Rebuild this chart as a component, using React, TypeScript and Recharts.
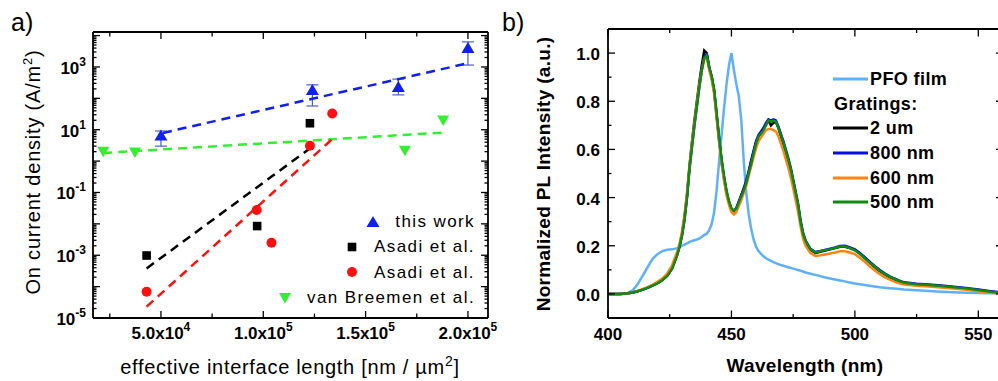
import { ScatterChart, Scatter, XAxis, YAxis, ErrorBar, LineChart, Line } from "recharts";

const FONT = '"Liberation Sans", Arial, Helvetica, sans-serif';

// ---------- panel a: on current density vs interface length ----------
const thisWorkX = [50000, 124000, 166000, 200000];
const thisWorkY = [6.6, 185, 229, 4000];
const thisWorkErrLow = [3.6, 128, 100, 2850];
const thisWorkErrHigh = [2.5, 84, 181, 2300];

const asadiSqX = [43000, 97000, 122800];
const asadiSqY = [0.00098, 0.0085, 16.1];

const asadiCircX = [43000, 96800, 104000, 122800, 133700];
const asadiCircY = [0.000069, 0.0276, 0.0025, 3.1, 33];

const breemenX = [21800, 37300, 169200, 187900];
const breemenY = [2.0, 1.87, 2.14, 19.6];

// dashed fit lines (end points)
const fitThisWorkX = [51000, 200000];
const fitThisWorkY = [7.9, 1320];
const fitAsadiSqX = [43000, 123000];
const fitAsadiSqY = [0.00038, 2.6];
const fitAsadiCircX = [43000, 134200];
const fitAsadiCircY = [0.000023, 5.4];
const fitBreemenX = [21800, 187900];
const fitBreemenY = [1.82, 8.1];

const legendA = ["this work", "Asadi et al.", "Asadi et al.", "van Breemen et al."];

const aXTicks = [25000, 50000, 75000, 100000, 125000, 150000, 175000, 200000];
const aXLabeled = [50000, 100000, 150000, 200000];
const aYLabelExps = [-5, -3, -1, 1, 3];

// ---------- panel b: PL spectra ----------
const wavelength = [
  400, 405, 408, 410, 412, 414, 416, 418, 420, 422, 424, 426, 428,
  429, 430, 431, 432, 433, 434, 435, 436, 437, 438, 439, 440, 441, 442, 443, 444, 445, 446, 447, 448, 449, 450,
  451, 452, 453, 454, 455, 456, 457, 458, 459, 460, 461, 462, 463, 464, 465, 466, 467, 468, 469, 470,
  471, 472, 473, 474, 475, 476, 477, 478, 479, 480,
  482, 484, 486, 488, 490, 492, 494, 496, 498, 500, 502, 504, 506, 508, 510, 512, 514, 516, 518, 520,
  525, 530, 535, 540, 545, 550, 555, 560,
];

const pfoFilm = [
  0, 0, 0.003, 0.015, 0.04, 0.075, 0.11, 0.145, 0.165, 0.178, 0.183, 0.185, 0.19,
  0.195, 0.2, 0.205, 0.21, 0.215, 0.22, 0.223, 0.226, 0.23, 0.237, 0.245, 0.25, 0.265, 0.29, 0.34, 0.43, 0.55, 0.66, 0.77, 0.87, 0.95, 1.0,
  0.93, 0.87, 0.82, 0.72, 0.55, 0.42, 0.33, 0.27, 0.225, 0.195, 0.178, 0.166, 0.156, 0.148, 0.142, 0.137, 0.132, 0.128, 0.124, 0.12,
  0.117, 0.114, 0.111, 0.108, 0.105, 0.102, 0.099, 0.096, 0.093, 0.089,
  0.084, 0.079, 0.074, 0.068, 0.064, 0.06, 0.056, 0.052, 0.047, 0.043, 0.04, 0.037, 0.034, 0.031, 0.028, 0.026, 0.024, 0.022, 0.02, 0.018,
  0.015, 0.012, 0.009, 0.007, 0.005, 0.004, 0.003, 0.002,
];

const grating2um = [
  0, 0, 0.003, 0.006, 0.011, 0.018, 0.026, 0.035, 0.046, 0.059, 0.078, 0.11, 0.165,
  0.2, 0.25, 0.32, 0.41, 0.53, 0.63, 0.72, 0.8, 0.88, 0.95, 1.01, 1.0, 0.94, 0.9, 0.84, 0.74, 0.64, 0.55, 0.48, 0.42, 0.38, 0.352,
  0.345, 0.355, 0.38, 0.41, 0.435, 0.465, 0.505, 0.55, 0.59, 0.63, 0.655, 0.67, 0.685, 0.705, 0.72, 0.7, 0.71, 0.715, 0.69, 0.655,
  0.625, 0.59, 0.555, 0.515, 0.465, 0.415, 0.365, 0.295, 0.245, 0.215,
  0.183, 0.17, 0.175, 0.18, 0.185, 0.19, 0.196, 0.196, 0.19, 0.182, 0.168, 0.15, 0.13, 0.112, 0.095, 0.082, 0.07, 0.06, 0.052, 0.045,
  0.039, 0.036, 0.032, 0.028, 0.022, 0.016, 0.009, 0.003,
];

const grating800 = [
  0, 0, 0.003, 0.006, 0.011, 0.018, 0.025, 0.034, 0.045, 0.058, 0.076, 0.107, 0.162,
  0.197, 0.245, 0.31, 0.4, 0.52, 0.61, 0.7, 0.78, 0.86, 0.93, 0.985, 0.995, 0.94, 0.9, 0.845, 0.745, 0.645, 0.555, 0.485, 0.425, 0.382, 0.352,
  0.345, 0.357, 0.385, 0.41, 0.44, 0.47, 0.51, 0.555, 0.595, 0.635, 0.66, 0.675, 0.69, 0.71, 0.725, 0.72, 0.725, 0.72, 0.695, 0.665,
  0.635, 0.6, 0.565, 0.525, 0.475, 0.425, 0.375, 0.305, 0.255, 0.222,
  0.187, 0.174, 0.178, 0.183, 0.188, 0.193, 0.199, 0.2, 0.193, 0.185, 0.17, 0.152, 0.134, 0.116, 0.1, 0.086, 0.074, 0.064, 0.055, 0.048,
  0.042, 0.039, 0.035, 0.03, 0.025, 0.018, 0.011, 0.005,
];

const grating600 = [
  0, 0, 0.003, 0.007, 0.012, 0.02, 0.028, 0.038, 0.05, 0.064, 0.085, 0.12, 0.175,
  0.21, 0.26, 0.33, 0.42, 0.53, 0.63, 0.71, 0.79, 0.87, 0.93, 0.975, 0.98, 0.93, 0.89, 0.83, 0.73, 0.63, 0.54, 0.47, 0.41, 0.37, 0.34,
  0.33, 0.34, 0.365, 0.39, 0.42, 0.45, 0.49, 0.53, 0.57, 0.605, 0.635, 0.65, 0.665, 0.68, 0.685, 0.685, 0.68, 0.675, 0.655, 0.625,
  0.595, 0.56, 0.525, 0.485, 0.44, 0.39, 0.34, 0.28, 0.23, 0.2,
  0.17, 0.158, 0.16, 0.164, 0.168, 0.172, 0.177, 0.177, 0.172, 0.165, 0.15, 0.133, 0.115, 0.098, 0.083, 0.07, 0.06, 0.051, 0.044, 0.039,
  0.034, 0.031, 0.027, 0.022, 0.017, 0.011, 0.005, 0.001,
];

const grating500 = [
  0, 0, 0.003, 0.006, 0.011, 0.018, 0.025, 0.034, 0.044, 0.057, 0.075, 0.105, 0.16,
  0.198, 0.245, 0.31, 0.4, 0.52, 0.61, 0.7, 0.78, 0.86, 0.93, 0.98, 0.99, 0.94, 0.905, 0.85, 0.75, 0.65, 0.56, 0.49, 0.43, 0.385, 0.355,
  0.345, 0.355, 0.38, 0.405, 0.43, 0.46, 0.5, 0.54, 0.585, 0.625, 0.655, 0.665, 0.68, 0.7, 0.72, 0.715, 0.72, 0.715, 0.69, 0.66,
  0.63, 0.595, 0.56, 0.52, 0.47, 0.42, 0.37, 0.3, 0.25, 0.22,
  0.185, 0.172, 0.177, 0.182, 0.186, 0.191, 0.197, 0.197, 0.19, 0.181, 0.166, 0.148, 0.13, 0.113, 0.097, 0.084, 0.072, 0.062, 0.053, 0.046,
  0.04, 0.037, 0.033, 0.028, 0.023, 0.016, 0.009, 0.003,
];

const seriesB = [
  { key: "pfo", name: "PFO film", values: pfoFilm, color: "#5fb0fa" },
  { key: "g2um", name: "2 um", values: grating2um, color: "#000000" },
  { key: "g800", name: "800 nm", values: grating800, color: "#0a0ae6" },
  { key: "g600", name: "600 nm", values: grating600, color: "#ff8418" },
  { key: "g500", name: "500 nm", values: grating500, color: "#128a12" },
];

const bXTicks = [400, 425, 450, 475, 500, 525, 550];
const bXLabeled = [400, 450, 500, 550];
const bYTicks = [0, 0.1, 0.2, 0.3, 0.4, 0.5, 0.6, 0.7, 0.8, 0.9, 1.0];
const bYLabeled = [0, 0.2, 0.4, 0.6, 0.8, 1.0];

// ---------- geometry ----------
const A_L = 93, A_R = 488, A_T = 32, A_B = 318;
const B_L = 108, B_R = 503, B_T = 29, B_B = 318;

const BLUE = "#1020f0";
const RED = "#ff1010";
const GREEN = "#30f030";

function pairs(xs: number[], ys: number[]) {
  return xs.map((x, i) => ({ x, y: ys[i] }));
}

const thisWorkData = thisWorkX.map((x, i) => ({
  x,
  y: thisWorkY[i],
  err: [thisWorkErrLow[i], thisWorkErrHigh[i]],
}));

// log ticks: every decade plus 2..9 minors
const aYTicks: number[] = [];
for (let k = -5; k <= 4; k++) {
  aYTicks.push(Math.pow(10, k));
  if (k < 4) for (let m = 2; m <= 9; m++) aYTicks.push(m * Math.pow(10, k));
}

function isDecade(v: number) {
  const e = Math.log10(v);
  return Math.abs(e - Math.round(e)) < 1e-6;
}

function TriUp({ cx, cy, fill }: any) {
  return <polygon points={`${cx},${cy - 6} ${cx - 6.5},${cy + 5} ${cx + 6.5},${cy + 5}`} fill={fill} />;
}
function TriDown({ cx, cy, fill }: any) {
  return <polygon points={`${cx - 6},${cy - 5} ${cx + 6},${cy - 5} ${cx},${cy + 5.5}`} fill={fill} />;
}
function Sq({ cx, cy, fill }: any) {
  return <rect x={cx - 4.3} y={cy - 4.3} width={8.6} height={8.6} fill={fill} />;
}
function Dot({ cx, cy, fill }: any) {
  return <circle cx={cx} cy={cy} r={5} fill={fill} />;
}
const NoShape = () => <g />;

const tickText = { fontFamily: FONT, fontSize: 17, fontWeight: "bold" as const, fill: "#000" };

function ALeftTick({ y, payload }: any) {
  const v = payload.value;
  const dec = isDecade(v);
  const exp = Math.round(Math.log10(v));
  return (
    <g>
      <line x1={A_L} x2={A_L + (dec ? 7 : 3.5)} y1={y} y2={y} stroke="#000" strokeWidth={1.3} />
      {dec && aYLabelExps.includes(exp) && (
        <text x={86} y={y + 7} textAnchor="end" {...tickText}>
          10<tspan dy={-8} fontSize={12}>{exp}</tspan>
        </text>
      )}
    </g>
  );
}
function ARightTick({ y, payload }: any) {
  const dec = isDecade(payload.value);
  return <line x1={A_R} x2={A_R - (dec ? 7 : 3.5)} y1={y} y2={y} stroke="#000" strokeWidth={1.3} />;
}
function ABottomTick({ x, payload }: any) {
  const v = payload.value;
  const major = aXLabeled.includes(v);
  const e = Math.floor(Math.log10(v));
  const m = v / Math.pow(10, e);
  return (
    <g>
      <line x1={x} x2={x} y1={A_B} y2={A_B - (major ? 7 : 4.5)} stroke="#000" strokeWidth={1.3} />
      {major && (
        <text x={x} y={A_B + 21} textAnchor="middle" {...tickText}>
          {m.toFixed(1)}x10<tspan dy={-8} fontSize={12}>{e}</tspan>
        </text>
      )}
    </g>
  );
}
function ATopTick({ x, payload }: any) {
  const major = aXLabeled.includes(payload.value);
  return <line x1={x} x2={x} y1={A_T} y2={A_T + (major ? 7 : 4.5)} stroke="#000" strokeWidth={1.3} />;
}

function BLeftTick({ y, payload }: any) {
  const major = bYLabeled.includes(payload.value);
  return (
    <g>
      <line x1={B_L} x2={B_L + (major ? 7 : 3.5)} y1={y} y2={y} stroke="#000" strokeWidth={1.3} />
      {major && (
        <text x={B_L - 8} y={y + 7} textAnchor="end" {...tickText}>
          {payload.value.toFixed(1)}
        </text>
      )}
    </g>
  );
}
function BRightTick({ y, payload }: any) {
  const major = bYLabeled.includes(payload.value);
  return <line x1={B_R} x2={B_R - (major ? 7 : 3.5)} y1={y} y2={y} stroke="#000" strokeWidth={1.3} />;
}
function BBottomTick({ x, payload }: any) {
  const major = bXLabeled.includes(payload.value);
  return (
    <g>
      <line x1={x} x2={x} y1={B_B} y2={B_B - (major ? 7.5 : 4)} stroke="#000" strokeWidth={1.3} />
      {major && (
        <text x={x} y={B_B + 22} textAnchor="middle" {...tickText}>
          {payload.value}
        </text>
      )}
    </g>
  );
}
function BTopTick({ x, payload }: any) {
  const major = bXLabeled.includes(payload.value);
  return <line x1={x} x2={x} y1={B_T} y2={B_T + (major ? 7.5 : 4)} stroke="#000" strokeWidth={1.3} />;
}

const axisLine = { stroke: "#000", strokeWidth: 1.8 };
const dash = "9 6";

// axes need a non-zero size to be drawn; 1px each, taken out of the margins
function PanelA() {
  return (
    <ScatterChart width={500} height={381} margin={{ top: A_T - 1, right: 500 - A_R - 1, bottom: 381 - A_B - 1, left: A_L - 1 }}>
      <XAxis xAxisId="b" type="number" dataKey="x" domain={[16800, 209800]} ticks={aXTicks} interval={0}
        height={1} axisLine={axisLine} tickLine={false} tick={(p: any) => <ABottomTick {...p} />} allowDataOverflow />
      <XAxis xAxisId="t" orientation="top" type="number" dataKey="x" domain={[16800, 209800]} ticks={aXTicks} interval={0}
        height={1} axisLine={axisLine} tickLine={false} tick={(p: any) => <ATopTick {...p} />} allowDataOverflow />
      <YAxis yAxisId="l" type="number" dataKey="y" scale="log" domain={[1e-5, 13000]} ticks={aYTicks} interval={0}
        width={1} axisLine={axisLine} tickLine={false} tick={(p: any) => <ALeftTick {...p} />} allowDataOverflow />
      <YAxis yAxisId="r" orientation="right" type="number" dataKey="y" scale="log" domain={[1e-5, 13000]} ticks={aYTicks} interval={0}
        width={1} axisLine={axisLine} tickLine={false} tick={(p: any) => <ARightTick {...p} />} allowDataOverflow />

      <Scatter xAxisId="b" yAxisId="l" data={pairs(fitBreemenX, fitBreemenY)} shape={NoShape}
        line={{ stroke: GREEN, strokeWidth: 2.5, strokeDasharray: dash }} isAnimationActive={false} />
      <Scatter xAxisId="b" yAxisId="l" data={pairs(fitAsadiSqX, fitAsadiSqY)} shape={NoShape}
        line={{ stroke: "#000", strokeWidth: 2.5, strokeDasharray: dash }} isAnimationActive={false} />
      <Scatter xAxisId="b" yAxisId="l" data={pairs(fitAsadiCircX, fitAsadiCircY)} shape={NoShape}
        line={{ stroke: RED, strokeWidth: 2.5, strokeDasharray: dash }} isAnimationActive={false} />
      <Scatter xAxisId="b" yAxisId="l" data={pairs(fitThisWorkX, fitThisWorkY)} shape={NoShape}
        line={{ stroke: BLUE, strokeWidth: 2.5, strokeDasharray: dash }} isAnimationActive={false} />

      <Scatter xAxisId="b" yAxisId="l" data={thisWorkData} fill={BLUE} shape={(p: any) => <TriUp {...p} fill={BLUE} />}
        isAnimationActive={false}>
        <ErrorBar dataKey="err" direction="y" width={6} stroke="#4b5bd6" strokeWidth={1.2} />
      </Scatter>
      <Scatter xAxisId="b" yAxisId="l" data={pairs(asadiSqX, asadiSqY)} shape={(p: any) => <Sq {...p} fill="#000" />}
        isAnimationActive={false} />
      <Scatter xAxisId="b" yAxisId="l" data={pairs(asadiCircX, asadiCircY)} shape={(p: any) => <Dot {...p} fill={RED} />}
        isAnimationActive={false} />
      <Scatter xAxisId="b" yAxisId="l" data={pairs(breemenX, breemenY)} shape={(p: any) => <TriDown {...p} fill={GREEN} />}
        isAnimationActive={false} />
    </ScatterChart>
  );
}

const plData = wavelength.map((w, i) => {
  const row: Record<string, number> = { w };
  seriesB.forEach((s) => (row[s.key] = s.values[i]));
  return row;
});

function PanelB() {
  return (
    <LineChart width={520} height={381} data={plData} margin={{ top: B_T - 1, right: 520 - B_R - 1, bottom: 381 - B_B - 1, left: B_L - 1 }}>
      <XAxis xAxisId="b" type="number" dataKey="w" domain={[400, 560]} ticks={bXTicks} interval={0}
        height={1} axisLine={axisLine} tickLine={false} tick={(p: any) => <BBottomTick {...p} />} allowDataOverflow />
      <XAxis xAxisId="t" orientation="top" type="number" dataKey="w" domain={[400, 560]} ticks={bXTicks} interval={0}
        height={1} axisLine={axisLine} tickLine={false} tick={(p: any) => <BTopTick {...p} />} allowDataOverflow />
      <YAxis yAxisId="l" type="number" domain={[-0.1, 1.1]} ticks={bYTicks} interval={0}
        width={1} axisLine={axisLine} tickLine={false} tick={(p: any) => <BLeftTick {...p} />} allowDataOverflow />
      <YAxis yAxisId="r" orientation="right" type="number" domain={[-0.1, 1.1]} ticks={bYTicks} interval={0}
        width={1} axisLine={axisLine} tickLine={false} tick={(p: any) => <BRightTick {...p} />} allowDataOverflow />
      {seriesB.map((s) => (
        <Line key={s.key} xAxisId="b" yAxisId="l" dataKey={s.key} type="linear" stroke={s.color}
          strokeWidth={2.5} dot={false} isAnimationActive={false} />
      ))}
    </LineChart>
  );
}

const symbolsA = [
  <polygon points="7,1 0.5,12 13.5,12" fill={BLUE} />,
  <rect x={2.7} y={2.7} width={8.6} height={8.6} fill="#000" />,
  <circle cx={7} cy={7} r={5} fill={RED} />,
  <polygon points="1,2 13,2 7,12.5" fill={GREEN} />,
];

function LegendA() {
  return (
    <div style={{ position: "absolute", left: 0, top: 209, width: 475, fontFamily: FONT }}>
      {legendA.map((label, i) => (
        <div key={i} style={{ height: 25.3, display: "flex", justifyContent: "flex-end", alignItems: "center" }}>
          <svg width={14} height={14} style={{ marginRight: 15 }}>{symbolsA[i]}</svg>
          <span style={{ fontSize: 17, letterSpacing: 1.4, color: "#000", lineHeight: "25px" }}>{label}</span>
        </div>
      ))}
    </div>
  );
}

function LegendB() {
  const rows = [seriesB[0], null, ...seriesB.slice(1)];
  return (
    <div style={{ position: "absolute", left: 833, top: 67, fontFamily: FONT }}>
      {rows.map((s, i) => (
        <div key={i} style={{ height: 24.6, display: "flex", alignItems: "center" }}>
          {s ? (
            <>
              <svg width={35} height={4} style={{ marginRight: 2 }}>
                <line x1={0} x2={35} y1={2} y2={2} stroke={s.color} strokeWidth={3} />
              </svg>
              <span style={{ fontSize: 18, fontWeight: "bold", letterSpacing: 0.4, lineHeight: "24px" }}>{s.name}</span>
            </>
          ) : (
            <span style={{ fontSize: 18, fontWeight: "bold", letterSpacing: 0.4, lineHeight: "24px", marginLeft: 1 }}>
              Gratings:
            </span>
          )}
        </div>
      ))}
    </div>
  );
}

export default function App() {
  return (
    <div style={{ position: "absolute", left: 0, top: 0, width: 998, height: 381, overflow: "hidden", background: "#fff" }}>
      <div style={{ position: "absolute", left: 0, top: 0 }}>
        <PanelA />
      </div>
      <div style={{ position: "absolute", left: 500, top: 0 }}>
        <PanelB />
      </div>
      <LegendA />
      <LegendB />
      <svg width={998} height={381} style={{ position: "absolute", left: 0, top: 0, pointerEvents: "none" }}
        fontFamily={FONT} fill="#000">
        <text x={11} y={31} fontSize={25}>a)</text>
        <text x={502} y={31} fontSize={25}>b)</text>
        <text transform="translate(40,172) rotate(-90)" textAnchor="middle" fontSize={20} letterSpacing={0.8}>
          On current density (A/m<tspan dy={-8} fontSize={13}>2</tspan>
          <tspan dy={8}>)</tspan>
        </text>
        <text x={290} y={374} textAnchor="middle" fontSize={20} letterSpacing={0.7}>
          effective interface length [nm / µm<tspan dy={-8} fontSize={14}>2</tspan>
          <tspan dy={8}>]</tspan>
        </text>
        <text transform="translate(550,174) rotate(-90)" textAnchor="middle" fontSize={19} fontWeight="bold" letterSpacing={0.3}>
          Normalized PL Intensity (a.u.)
        </text>
        <text x={805} y={372} textAnchor="middle" fontSize={19} fontWeight="bold" letterSpacing={0.3}>
          Wavelength (nm)
        </text>
      </svg>
    </div>
  );
}
